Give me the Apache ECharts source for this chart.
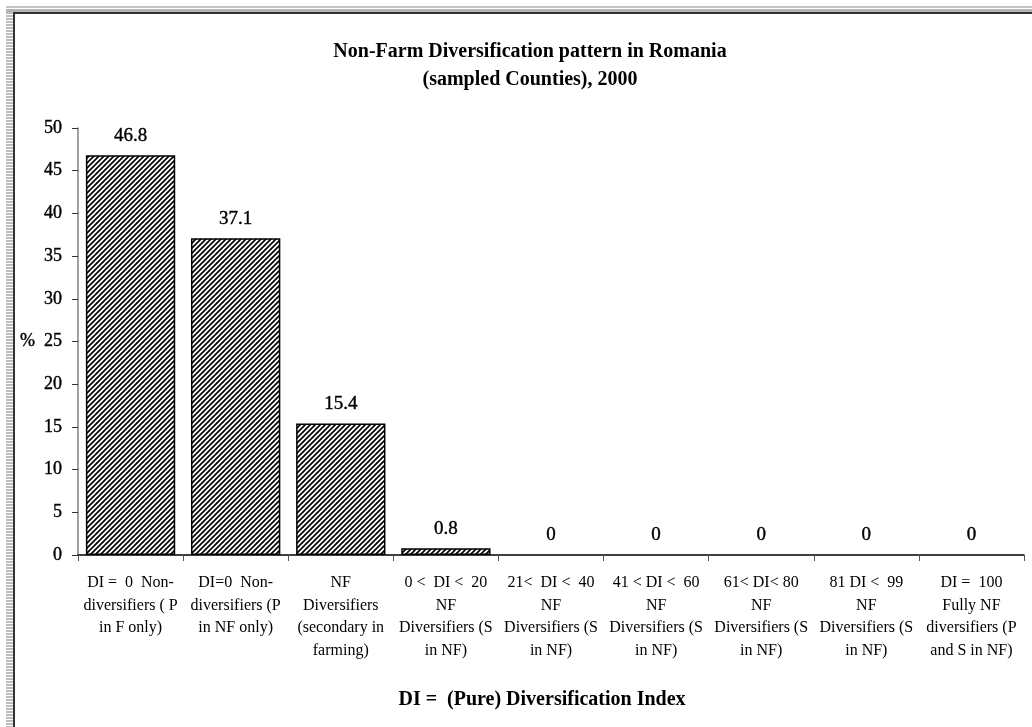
<!DOCTYPE html>
<html>
<head>
<meta charset="utf-8">
<script src="https://cdn.jsdelivr.net/npm/echarts@6/dist/echarts.min.js"></script>
<style>
html,body{margin:0;padding:0;background:#fff;}
#wrap{position:relative;width:1032px;height:727px;overflow:hidden;}
#chart{position:absolute;left:0;top:0;width:1032px;height:727px;}
.f{position:absolute;pointer-events:none;}
</style>
</head>
<body>
<div id="wrap">
<div id="chart"></div>
<div class="f" style="left:6px;top:6px;width:1026px;height:2px;background:#c4c4c4;"></div>
<div class="f" style="left:6px;top:9px;width:1026px;height:3px;background:#b4b4b4;"></div>
<div class="f" style="left:6px;top:12px;width:7px;height:715px;background:repeating-linear-gradient(to bottom,#bcbcbc 0px,#bcbcbc 2px,#ffffff 2px,#ffffff 3px);"></div>
<div class="f" style="left:13px;top:12px;width:1019px;height:2px;background:#333;"></div>
<div class="f" style="left:13px;top:12px;width:2px;height:715px;background:#333;"></div>
</div>
<script>
const titleLines = ["Non-Farm Diversification pattern in Romania", "(sampled Counties), 2000"];
const xAxisTitle = "DI =  (Pure) Diversification Index";
const categories = [
  "DI =  0  Non-\ndiversifiers ( P\nin F only)",
  "DI=0  Non-\ndiversifiers (P\nin NF only)",
  "NF\nDiversifiers\n(secondary in\nfarming)",
  "0 <  DI <  20\nNF\nDiversifiers (S\nin NF)",
  "21<  DI <  40\nNF\nDiversifiers (S\nin NF)",
  "41 < DI <  60\nNF\nDiversifiers (S\nin NF)",
  "61< DI< 80\nNF\nDiversifiers (S\nin NF)",
  "81 DI <  99\nNF\nDiversifiers (S\nin NF)",
  "DI =  100\nFully NF\ndiversifiers (P\nand S in NF)"
];
const values = [46.8, 37.1, 15.4, 0.8, 0, 0, 0, 0, 0];
const yTicks = [0, 5, 10, 15, 20, 25, 30, 35, 40, 45, 50];

// hatch pattern
const pc = document.createElement('canvas');
pc.width = 5; pc.height = 5;
const g = pc.getContext('2d');
g.fillStyle = '#fff'; g.fillRect(0,0,5,5);
g.strokeStyle = '#000'; g.lineWidth = 1.7;
g.beginPath();
g.moveTo(-1,6); g.lineTo(6,-1);
g.moveTo(-1,1); g.lineTo(1,-1);
g.moveTo(4,6); g.lineTo(6,4);
g.stroke();

const font = "'Liberation Serif', 'DejaVu Serif', serif";
const barData = values.map(v => v === 0 ? {value: v, itemStyle: {borderWidth: 0}} : v);

const chart = echarts.init(document.getElementById('chart'), null, {renderer:'canvas'});
chart.setOption({
  animation: false,
  textStyle: {fontFamily: font},
  title: [
    {text: titleLines.join('\n'), left: 525, top: 33, textAlign: 'center',
     textStyle: {fontFamily: font, fontSize: 20, fontWeight: 'bold', color: '#000', lineHeight: 28}},
    {text: xAxisTitle, left: 537, top: 685, textAlign: 'center',
     textStyle: {fontFamily: font, fontSize: 20, fontWeight: 'bold', color: '#000'}}
  ],
  grid: {left: 78, right: 8, top: 128, bottom: 172, containLabel: false},
  xAxis: {
    type: 'category', data: categories,
    axisLine: {show: true, lineStyle: {color: '#000', width: 1.5}},
    axisTick: {show: true, length: 6, lineStyle: {color: '#555'}},
    axisLabel: {color: '#000', fontSize: 16, lineHeight: 22.5, margin: 17, interval: 0, fontFamily: font}
  },
  yAxis: {
    type: 'value', min: yTicks[0], max: yTicks[yTicks.length-1], interval: 5,
    splitLine: {show: false},
    axisLine: {show: true, lineStyle: {color: '#808080', width: 1.5}},
    axisTick: {show: true, length: 6, lineStyle: {color: '#333'}},
    axisLabel: {color: '#000', fontSize: 18, margin: 16, fontFamily: font,
      textBorderColor: '#000', textBorderWidth: 0.4,
      formatter: function(v){ return v === 25 ? '%  25' : String(v); }}
  },
  series: [{
    type: 'bar', data: barData, barCategoryGap: '15%',
    itemStyle: {color: {image: pc, repeat: 'repeat'}, borderColor: '#000', borderWidth: 1.5},
    label: {show: true, position: 'top', distance: 10, color: '#000', fontSize: 19, fontFamily: font,
      textBorderColor: '#000', textBorderWidth: 0.4}
  }]
});
</script>
</body>
</html>
